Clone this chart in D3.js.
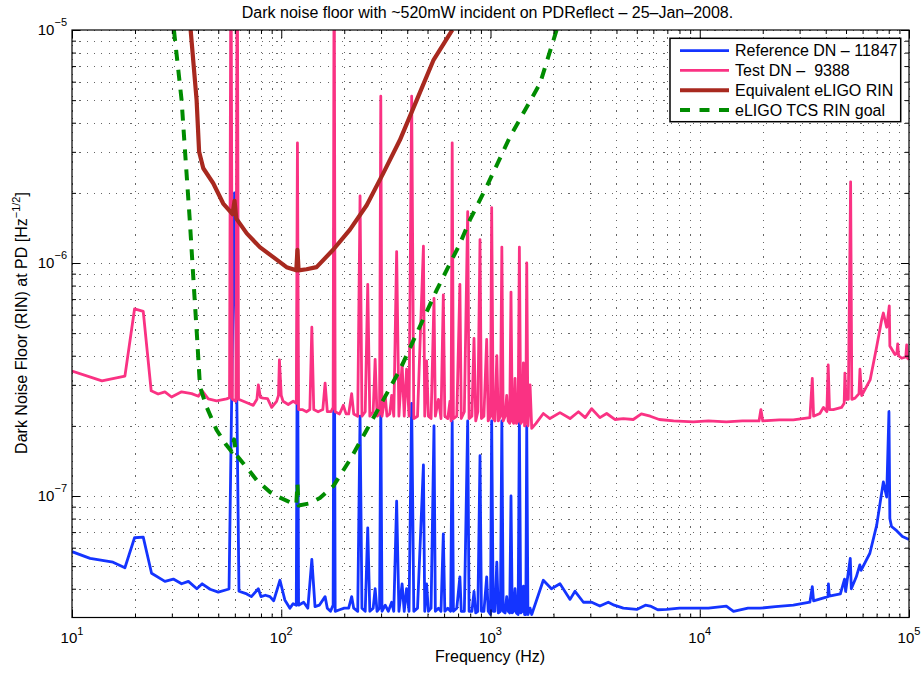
<!DOCTYPE html>
<html lang="en">
<head>
  <meta charset="utf-8">
  <script src="https://d3js.org/d3.v7.min.js"></script>
  <style>
    body { margin: 0; background: #fff; }
    text { font-family: "Liberation Sans", Arial, Helvetica, sans-serif; fill: #000; }
  </style>
</head>
<body>
<div id="chart"></div>
<script>

// ---- data: [frequency Hz, RIN 1/sqrt(Hz)] ----
var refDN = [
  [10,5.77e-8],[12.2,5.4e-8],[15.7,5.2e-8],[17.9,4.92e-8],[19.9,6.62e-8],[21.9,6.66e-8],[24,4.66e-8],
  [27.8,4.3e-8],[30.5,4.4e-8],[33.4,4.2e-8],[36,4.3e-8],[39.5,4.0e-8],[41.9,4.2e-8],[45.7,3.98e-8],
  [50,3.87e-8],[55.8,3.98e-8],[56.3,4.0e-8],[59.8,2.0e-6],[62.8,3.9e-8],[68.4,3.8e-8],[72,3.7e-8],
  [77.7,4.0e-8],[80,3.7e-8],[84,3.75e-8],[88.3,3.7e-8],[92,3.55e-8],[98.6,4.35e-8],[104,3.58e-8],
  [110,3.3e-8],[114,3.45e-8],[118,3.4e-8],[119.5,8e-7],[121,3.4e-8],[128,3.5e-8],[134,3.3e-8],
  [140,5.35e-8],[145,3.35e-8],[152,3.4e-8],[162,3.7e-8],[166,3.3e-8],[172,3.2e-8],[177,3.4e-8],
  [179,1.41e-6],[181,3.2e-8],[190,3.25e-8],[200,3.3e-8],[210,3.3e-8],[217,3.7e-8],[222,3.3e-8],
  [232,3.2e-8],[238,2.2e-7],[243,3.3e-8],[252,3.2e-8],[259,7.3e-8],[265,3.2e-8],[275,3.3e-8],
  [281,4.0e-8],[287,3.2e-8],[295,3.3e-8],[299,2.5e-7],[303,3.2e-8],[314,3.4e-8],[325,3.2e-8],
  [337,3.5e-8],[345,3.2e-8],[356,9.5e-8],[365,3.2e-8],[378,4.2e-8],[387,3.2e-8],[397,4.0e-8],
  [408,3.2e-8],[420,2.5e-7],[430,3.2e-8],[448,3.3e-8],[478,1.36e-7],[485,3.2e-8],[495,4.2e-8],
  [505,3.2e-8],[520,3.3e-8],[537,2.0e-7],[545,3.2e-8],[564,3.3e-8],[580,3.2e-8],[595,6.87e-8],
  [605,3.2e-8],[625,3.3e-8],[645,3.2e-8],[656,2.1e-7],[665,3.2e-8],[690,3.3e-8],[714,4.5e-8],
  [725,3.2e-8],[750,3.2e-8],[778,2.1e-7],[790,3.2e-8],[815,3.2e-8],[834,3.9e-8],[850,3.15e-8],
  [870,3.2e-8],[891,1.49e-7],[905,3.2e-8],[930,3.2e-8],[959,4.5e-8],[975,3.2e-8],[1000,3.1e-8],
  [1013,2.1e-7],[1030,3.2e-8],[1050,3.2e-8],[1072,5.2e-8],[1090,3.15e-8],[1115,3.2e-8],[1133,2.1e-7],
  [1150,3.2e-8],[1175,3.15e-8],[1195,3.7e-8],[1215,3.2e-8],[1235,3.15e-8],[1253,1.0e-7],[1270,3.15e-8],
  [1290,3.2e-8],[1310,4.0e-8],[1330,3.15e-8],[1355,3.1e-8],[1374,2.1e-7],[1395,3.15e-8],[1420,3.2e-8],
  [1436,4.1e-8],[1455,3.1e-8],[1475,3.1e-8],[1490,2.0e-7],[1510,3.1e-8],[1545,3.3e-8],[1574,3.1e-8],
  [1788,4.35e-8],[1955,4.0e-8],[2148,4.2e-8],[2400,3.6e-8],[2535,3.9e-8],[2780,3.5e-8],[3044,3.5e-8],
  [3333,3.37e-8],[3655,3.5e-8],[3900,3.4e-8],[4313,3.3e-8],[5000,3.26e-8],[5500,3.4e-8],[5800,3.37e-8],
  [6300,3.25e-8],[6950,3.26e-8],[8000,3.3e-8],[9310,3.3e-8],[11000,3.3e-8],[13400,3.37e-8],[14500,3.2e-8],
  [17000,3.3e-8],[19400,3.3e-8],[23000,3.35e-8],[28000,3.4e-8],[33600,3.5e-8],[34500,4.08e-8],
  [35000,3.55e-8],[41000,3.7e-8],[41200,4.2e-8],[41600,3.72e-8],[47000,3.8e-8],[49200,4.4e-8],
  [49800,3.9e-8],[52400,5.4e-8],[53000,4.0e-8],[56000,4.5e-8],[58200,5.06e-8],[59000,4.8e-8],
  [65000,5.68e-8],[70100,7.5e-8],[75400,1.15e-7],[78200,9.9e-8],[80200,2.3e-7],[81000,8e-8],
  [82500,7.4e-8],[87300,7.1e-8],[93000,6.7e-8],[100000,6.5e-8]
];

var testDN = [
  [10,3.44e-7],[13.9,3.12e-7],[17.9,3.27e-7],[19.9,6.35e-7],[21.9,6.2e-7],[23.9,2.83e-7],[25.8,2.74e-7],
  [27.8,2.8e-7],[29.9,2.66e-7],[33.4,2.8e-7],[37.3,2.75e-7],[40.2,2.68e-7],[41.9,2.83e-7],[44.8,2.61e-7],
  [49.1,2.56e-7],[54.8,2.61e-7],[56.6,2.64e-7],[57.5,3e-5],[58.4,2.6e-7],[60.7,2.55e-7],[61.6,3e-5],
  [62.5,2.6e-7],[65.9,2.55e-7],[69.5,2.5e-7],[73.5,2.45e-7],[76.5,2.6e-7],[77.7,3.0e-7],[79.5,2.65e-7],
  [82,2.63e-7],[86,2.62e-7],[90,2.4e-7],[95,2.55e-7],[97,2.7e-7],[98,3.84e-7],[100,2.7e-7],[102,2.55e-7],
  [108,2.47e-7],[114,2.55e-7],[118,2.5e-7],[119.5,3.28e-6],[121,2.35e-7],[126,2.35e-7],[132,2.3e-7],
  [137,2.35e-7],[140,5.3e-7],[143,2.35e-7],[150,2.3e-7],[158,2.35e-7],[162,3.05e-7],[166,2.3e-7],
  [173,2.3e-7],[177,2.4e-7],[179,3e-5],[181,2.3e-7],[190,2.25e-7],[198,2.45e-7],[204,2.25e-7],
  [210,2.25e-7],[217,2.75e-7],[222,2.25e-7],[232,2.2e-7],[238,1.94e-6],[243,2.2e-7],[252,2.3e-7],
  [259,8.1e-7],[265,2.2e-7],[275,2.3e-7],[281,3.86e-7],[287,2.2e-7],[295,2.25e-7],[299,5.2e-6],
  [303,2.2e-7],[314,2.7e-7],[320,2.2e-7],[330,2.25e-7],[337,2.7e-7],[345,2.2e-7],[356,1.12e-6],
  [365,2.2e-7],[378,3.7e-7],[387,2.2e-7],[397,3.5e-7],[408,2.2e-7],[420,5.2e-6],[430,2.15e-7],
  [448,2.2e-7],[478,1.18e-6],[485,2.2e-7],[495,3.8e-7],[505,2.2e-7],[520,2.15e-7],[537,7.05e-7],
  [545,2.2e-7],[564,2.6e-7],[580,2.15e-7],[595,7.3e-7],[605,2.2e-7],[625,2.15e-7],[640,2.55e-7],
  [648,2.1e-7],[656,3.28e-6],[665,2.15e-7],[690,2.2e-7],[714,8.1e-7],[725,2.15e-7],[750,2.3e-7],
  [778,1.66e-6],[790,2.15e-7],[815,2.2e-7],[834,4.75e-7],[850,2.1e-7],[870,2.3e-7],[891,1.26e-6],
  [905,2.15e-7],[930,2.2e-7],[959,4.7e-7],[975,2.1e-7],[1000,2.2e-7],[1013,1.73e-6],[1030,2.15e-7],
  [1050,2.1e-7],[1072,4.0e-7],[1090,2.1e-7],[1115,2.2e-7],[1133,1.17e-6],[1150,2.1e-7],[1175,2.2e-7],
  [1195,2.7e-7],[1215,2.1e-7],[1235,2.05e-7],[1253,7.5e-7],[1270,2.1e-7],[1290,2.05e-7],[1310,3.2e-7],
  [1330,2.05e-7],[1355,2.1e-7],[1374,1.17e-6],[1395,2.05e-7],[1420,2.1e-7],[1436,3.73e-7],[1455,2.0e-7],
  [1475,2.1e-7],[1490,1.0e-6],[1510,2.0e-7],[1545,3.0e-7],[1574,1.95e-7],[1650,2.05e-7],[1788,2.26e-7],
  [1923,2.15e-7],[2148,2.28e-7],[2400,2.15e-7],[2632,2.3e-7],[2835,2.17e-7],[3044,2.37e-7],[3333,2.17e-7],
  [3590,2.26e-7],[3930,2.13e-7],[4313,2.15e-7],[4810,2.13e-7],[5260,2.25e-7],[5800,2.2e-7],[6400,2.13e-7],
  [7500,2.1e-7],[9310,2.08e-7],[11000,2.1e-7],[13400,2.08e-7],[16000,2.1e-7],[19200,2.1e-7],[19600,2.35e-7],
  [20000,2.1e-7],[24000,2.12e-7],[28000,2.12e-7],[33600,2.17e-7],[34500,3.2e-7],[35000,2.2e-7],
  [37500,2.26e-7],[39000,2.4e-7],[40500,2.3e-7],[41100,3.65e-7],[41700,2.35e-7],[43500,2.35e-7],
  [47600,2.4e-7],[49000,2.5e-7],[49400,3.37e-7],[50000,2.6e-7],[51300,2.6e-7],[52600,2.23e-6],
  [53300,2.6e-7],[55200,2.63e-7],[57700,2.75e-7],[58300,3.5e-7],[59400,2.7e-7],[65200,3.15e-7],
  [70100,4.38e-7],[74000,5.7e-7],[75400,6.1e-7],[78200,5.3e-7],[80500,6.55e-7],[81000,4.4e-7],
  [85700,4.05e-7],[87500,4.1e-7],[88300,4.5e-7],[89200,4.0e-7],[92300,3.9e-7],[96500,3.95e-7],
  [97500,4.45e-7],[98500,3.9e-7],[100000,3.85e-7]
];

var eligoRIN = [
  [36.9,1e-5],[39.4,5e-6],[40.5,3e-6],[42.4,2.55e-6],[47.3,2.2e-6],[52.8,1.8e-6],[58.5,1.62e-6],
  [59.8,1.85e-6],[61,1.55e-6],[68.4,1.34e-6],[79,1.17e-6],[91.6,1.06e-6],[106,9.6e-7],[118,9.3e-7],
  [119.5,1.14e-6],[121,9.3e-7],[132,9.4e-7],[147.5,9.6e-7],[177,1.14e-6],[213,1.39e-6],[256,1.77e-6],
  [307.5,2.43e-6],[369,3.37e-6],[444,5e-6],[533,7.4e-6],[657,1e-5]
];

var tcsGoal = [
  [30.7,1e-5],[33.4,5e-6],[34.7,3e-6],[36.6,1.5e-6],[38.2,8e-7],[39.6,4.8e-7],[40.9,2.94e-7],[44,2.41e-7],
  [49.1,1.92e-7],[54.8,1.65e-7],[58,1.55e-7],[59.5,1.75e-7],[61,1.5e-7],[65.9,1.38e-7],[76.3,1.17e-7],
  [88.3,1.04e-7],[95,1e-7],[110,9.4e-8],[118,9.2e-8],[119.5,1.13e-7],[121,9.1e-8],[137,9.3e-8],
  [153,9.8e-8],[177,1.1e-7],[213,1.43e-7],[256,1.92e-7],[307,2.58e-7],[369,3.48e-7],[553,7.65e-7],
  [714,1.21e-6],[797,1.53e-6],[959,2.13e-6],[1240,3.48e-6],[1725,5.9e-6],[2070,1e-5]
];

var xTickExp = [1, 2, 3, 4, 5];
var yTickExp = [-7, -6, -5];
var legendLabels = ["Reference DN \u2013 11847", "Test DN \u2013  9388", "Equivalent eLIGO RIN", "eLIGO TCS RIN goal"];

// ---- layout ----
var margin = {top: 30, right: 14, bottom: 55.5, left: 72},
  width = 923 - margin.left - margin.right,
  height = 673 - margin.top - margin.bottom;

var svg = d3.select("#chart")
  .append("svg")
    .attr("width", 923)
    .attr("height", 673)
  .append("g")
    .attr("transform", "translate(" + margin.left + "," + margin.top + ")");

var x = d3.scaleLog().domain([10, 1e5]).range([0, width]);
var y = d3.scaleLog().domain([3.01e-8, 1e-5]).range([height, 0]);

// major / minor tick positions for both log axes
var xMajor = xTickExp.map(function(e) { return Math.pow(10, e); });
var xMinor = [];
xTickExp.slice(0, -1).forEach(function(e) {
  for (var k = 2; k < 10; k++) xMinor.push(k * Math.pow(10, e));
});
var yMajor = yTickExp.map(function(e) { return Math.pow(10, e); });
var yMinor = [];
[-8, -7, -6].forEach(function(e) {
  for (var k = 2; k < 10; k++) {
    var v = k * Math.pow(10, e);
    if (v >= y.domain()[0]) yMinor.push(v);
  }
});

// dotted grid
var grid = svg.append("g").attr("class", "grid")
  .attr("stroke", "#666").attr("stroke-width", 1).attr("stroke-dasharray", "1.2,6.1")
  .attr("shape-rendering", "crispEdges");
grid.selectAll(".gx").data(xMajor.concat(xMinor)).enter().append("line")
  .attr("x1", function(d) { return Math.round(x(d)) + 0.5; })
  .attr("x2", function(d) { return Math.round(x(d)) + 0.5; })
  .attr("y1", 0).attr("y2", height);
grid.selectAll(".gy").data(yMajor.concat(yMinor)).enter().append("line")
  .attr("y1", function(d) { return Math.round(y(d)) + 0.5; })
  .attr("y2", function(d) { return Math.round(y(d)) + 0.5; })
  .attr("x1", 0).attr("x2", width);

// curves
svg.append("clipPath").attr("id", "plotclip")
  .append("rect").attr("width", width).attr("height", height);

var line = d3.line()
  .x(function(d) { return x(d[0]); })
  .y(function(d) { return y(d[1]); });

var series = [
  {data: refDN,    color: "#1434ff", w: 2.8, dash: null},
  {data: testDN,   color: "#fa3283", w: 2.8, dash: null},
  {data: eligoRIN, color: "#a8291f", w: 4.2, dash: null},
  {data: tcsGoal,  color: "#008c00", w: 4,   dash: "11,9"}
];

var plot = svg.append("g").attr("clip-path", "url(#plotclip)");
series.forEach(function(s) {
  plot.append("path")
    .datum(s.data)
    .attr("fill", "none")
    .attr("stroke", s.color)
    .attr("stroke-width", s.w)
    .attr("stroke-linejoin", "round")
    .attr("stroke-dasharray", s.dash)
    .attr("d", line);
});

// inward ticks on all four sides
function ticks(axis, vals, size) {
  return axis.tickValues(vals).tickSize(-size).tickFormat("");
}
var tickSides = [
  {fn: d3.axisBottom, sc: x, tr: "translate(0," + height + ")"},
  {fn: d3.axisTop,    sc: x, tr: null},
  {fn: d3.axisLeft,   sc: y, tr: null},
  {fn: d3.axisRight,  sc: y, tr: "translate(" + width + ",0)"}
];
tickSides.forEach(function(t) {
  var maj = t.sc === x ? xMajor : yMajor;
  var min = t.sc === x ? xMinor : yMinor;
  [[maj, 8], [min, 4]].forEach(function(p) {
    var g = svg.append("g").attr("transform", t.tr)
      .call(ticks(t.fn(t.sc), p[0], p[1]));
    g.select(".domain").remove();
    g.selectAll("line").attr("stroke", "#000");
  });
});

// axes box
svg.append("rect")
  .attr("width", width).attr("height", height)
  .attr("fill", "none").attr("stroke", "#000").attr("stroke-width", 1.2);

// tick labels 10^n
var xl = svg.selectAll(".xlab").data(xTickExp).enter().append("text")
  .attr("x", function(d) { return x(Math.pow(10, d)); })
  .attr("y", height + 25.5)
  .attr("text-anchor", "middle")
  .style("font-size", "15px");
xl.append("tspan").text("10");
xl.append("tspan").attr("dy", -8.5).style("font-size", "11px").text(function(d) { return d; });

var yl = svg.selectAll(".ylab").data(yTickExp).enter().append("text")
  .attr("x", -5)
  .attr("y", function(d) { return y(Math.pow(10, d)) + 5.3; })
  .attr("text-anchor", "end")
  .style("font-size", "15px");
yl.append("tspan").text("10");
yl.append("tspan").attr("dy", -9).style("font-size", "11px")
  .text(function(d) { return "\u2212" + Math.abs(d); });

// title and axis labels
svg.append("text")
  .attr("x", 487.5 - margin.left).attr("y", 18 - margin.top)
  .attr("text-anchor", "middle").style("font-size", "16px")
  .text("Dark noise floor with ~520mW incident on PDReflect \u2013 25\u2013Jan\u20132008.");

svg.append("text")
  .attr("x", 490 - margin.left).attr("y", 662 - margin.top)
  .attr("text-anchor", "middle").style("font-size", "16px")
  .text("Frequency (Hz)");

var ylab = svg.append("text")
  .attr("transform", "translate(" + (27 - margin.left) + "," + (323 - margin.top) + ") rotate(-90)")
  .attr("text-anchor", "middle").style("font-size", "16px");
ylab.append("tspan").text("Dark Noise Floor (RIN) at PD [Hz");
ylab.append("tspan").attr("dy", -7).style("font-size", "11px").text("\u22121/2");
ylab.append("tspan").attr("dy", 7).text("]");

// legend
var lg = svg.append("g").attr("transform", "translate(" + (670 - margin.left) + "," + (38.3 - margin.top) + ")");
lg.append("rect")
  .attr("width", 230.7).attr("height", 83.4)
  .attr("fill", "#fff").attr("stroke", "#000").attr("stroke-width", 1.5);
var rowY = d3.scalePoint().domain(d3.range(legendLabels.length)).range([12.4, 71.7]);
series.forEach(function(s, i) {
  lg.append("line")
    .attr("x1", 10).attr("x2", 59)
    .attr("y1", rowY(i)).attr("y2", rowY(i))
    .attr("stroke", s.color).attr("stroke-width", s.w)
    .attr("stroke-dasharray", s.dash ? "10,9.5" : null);
  lg.append("text")
    .attr("x", 65).attr("y", rowY(i) + 5.6)
    .style("font-size", "16px").style("white-space", "pre")
    .text(legendLabels[i]);
});

</script>
</body>
</html>
